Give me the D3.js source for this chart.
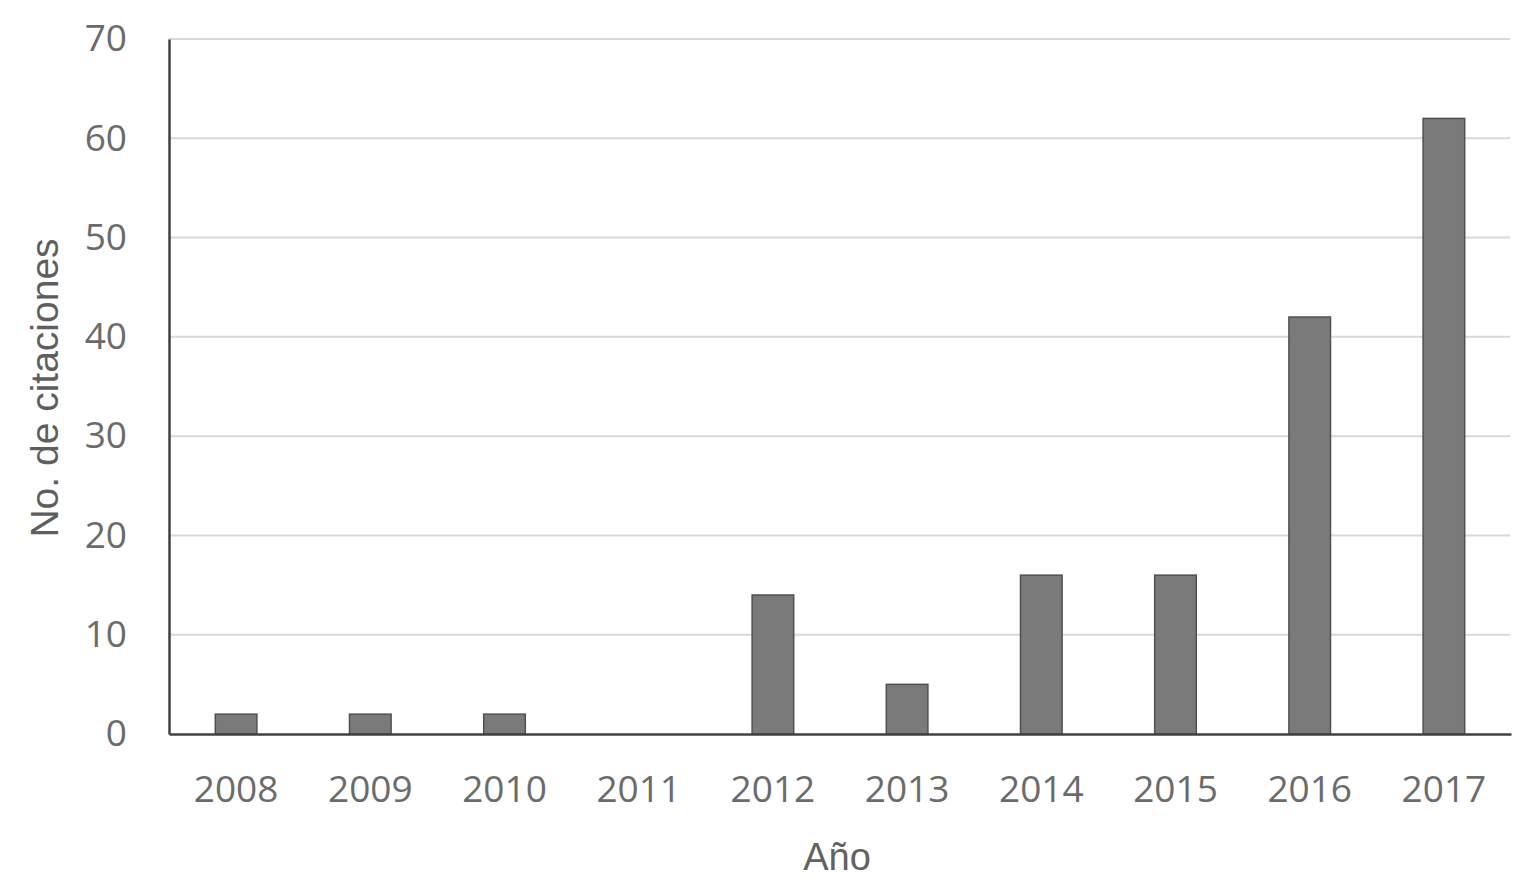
<!DOCTYPE html>
<html><head><meta charset="utf-8">
<script src="https://cdn.jsdelivr.net/npm/d3@7"></script>
<style>body{margin:0;background:#fff;}svg{display:block;}</style>
</head><body>
<svg id="c" width="1521" height="888"></svg>
<script>
const years = ["2008","2009","2010","2011","2012","2013","2014","2015","2016","2017"];
const citations = [2,2,2,0,14,5,16,16,42,62];
const yTicks = [0,10,20,30,40,50,60,70];

(function(){
const svg = d3.select("#c");
const mL = 169, mR = 1511, mT = 39, mB = 734;
const x = d3.scaleBand().domain(years).range([mL, mR]).paddingInner(0.69).paddingOuter(0.345);
const y = d3.scaleLinear().domain([0,70]).range([mB, mT]);
const font = "'Open Sans', sans-serif";
const titleFont = "'Liberation Sans', Arial, sans-serif";
const textCol = "#6b6b6b";

// gridlines
svg.append("g").selectAll("line").data(yTicks.filter(d=>d>0)).join("line")
  .attr("x1", mL).attr("x2", 1510).attr("y1", d=>y(d)).attr("y2", d=>y(d))
  .attr("stroke", "#d9d9d9").attr("stroke-width", 2);

// bars
svg.append("g").selectAll("rect").data(years.map((yr,i)=>({yr, v:citations[i]})).filter(d=>d.v>0)).join("rect")
  .attr("x", d=>x(d.yr)).attr("width", x.bandwidth())
  .attr("y", d=>y(d.v)).attr("height", d=>y(0)-y(d.v))
  .attr("fill", "#7a7a7a").attr("stroke", "#505050").attr("stroke-width", 1.5);

// y axis
const ya = svg.append("g").attr("transform", `translate(${mL},0)`)
  .call(d3.axisLeft(y).tickValues(yTicks).tickSize(0).tickPadding(42));
ya.select(".domain").attr("stroke", "#404040").attr("stroke-width", 2.5);
ya.selectAll("text").attr("font-family", font).attr("font-size", 37).attr("fill", textCol);

// x axis
const xa = svg.append("g").attr("transform", `translate(0,${mB})`)
  .call(d3.axisBottom(x).tickSize(0).tickPadding(42));
xa.select(".domain").attr("stroke", "#404040").attr("stroke-width", 2.5);
xa.selectAll("text").attr("font-family", font).attr("font-size", 37).attr("fill", textCol);

// axis titles
svg.append("text").attr("x", 837).attr("y", 870).attr("text-anchor", "middle")
  .attr("font-family", titleFont).attr("font-size", 38).attr("fill", "#626262").text("Año");
svg.append("text").attr("transform", "translate(58,388) rotate(-90)").attr("text-anchor", "middle")
  .attr("font-family", titleFont).attr("font-size", 39).attr("fill", "#5e5e5e").text("No. de citaciones");
})();
</script>
</body></html>
